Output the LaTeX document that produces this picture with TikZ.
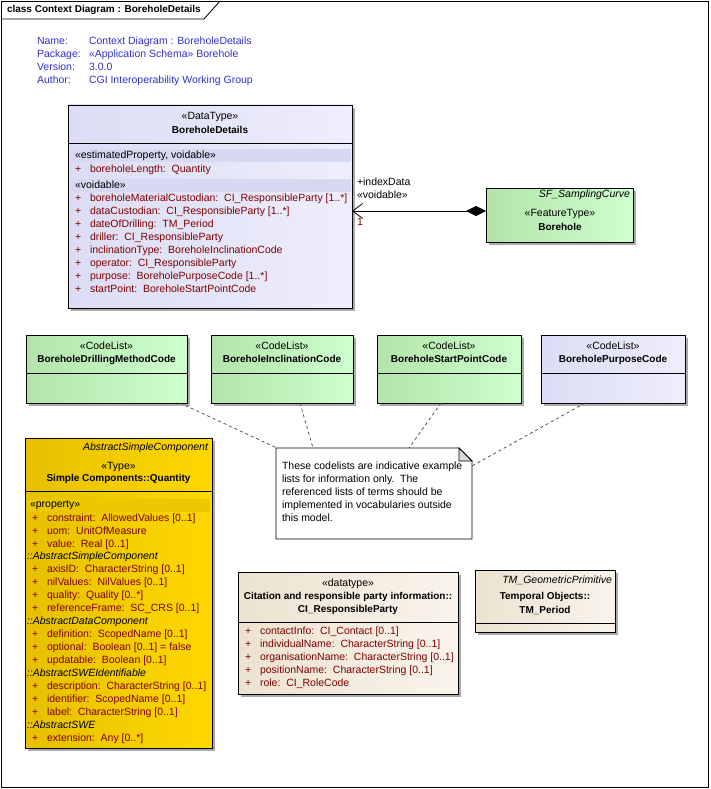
\documentclass[tikz,border=0pt]{standalone}
\usepackage{fontspec}
\setmainfont{Liberation Sans}
\usetikzlibrary{arrows.meta,shadows}
\definecolor{attrc}{RGB}{128,0,0}
\definecolor{metac}{RGB}{48,48,208}
\definecolor{lavL}{RGB}{220,220,244}
\definecolor{lavR}{RGB}{238,238,253}
\definecolor{lavband}{RGB}{216,216,243}
\definecolor{grnL}{RGB}{178,228,170}
\definecolor{grnR}{RGB}{206,255,206}
\definecolor{goldL}{RGB}{230,192,0}
\definecolor{goldR}{RGB}{255,216,0}
\definecolor{goldband}{RGB}{236,200,0}
\definecolor{begL}{RGB}{236,226,208}
\definecolor{begR}{RGB}{249,244,236}
\definecolor{shadowc}{RGB}{170,170,170}
\tikzset{
 every node/.style={inner sep=0pt, outer sep=0pt},
 txt/.style={font=\fontsize{10.5}{12}\selectfont, text height=7.5pt, text depth=2pt},
 btxt/.style={txt, font=\fontsize{10}{12}\selectfont\bfseries},
 itxt/.style={txt, font=\fontsize{10.5}{12}\selectfont\itshape},
 attr/.style={txt, text=attrc, anchor=west},
 umlbox/.style={draw=black, line width=0.8pt, anchor=north west,
   drop shadow={shadow xshift=3pt, shadow yshift=-3pt, fill=shadowc, opacity=1}},
 lavbox/.style={umlbox, left color=lavL, right color=lavR},
 grnbox/.style={umlbox, left color=grnL, right color=grnR},
 goldbox/.style={umlbox, left color=goldL, right color=goldR},
 begbox/.style={umlbox, left color=begL, right color=begR},
 sep/.style={line width=0.8pt},
 dashline/.style={draw=black!75, line width=0.7pt, dash pattern=on 3pt off 3pt},
}
\begin{document}
\begin{tikzpicture}[x=1pt,y=-1pt]
\useasboundingbox (0,0) rectangle (710,789);
% frame
\draw[line width=0.8pt] (1,1) rectangle (708,787);
\draw[line width=0.8pt] (1,19) -- (204,19) -- (220,1);
\node[btxt, anchor=west] (title) at (7,10) {class Context Diagram : BoreholeDetails};
% metadata
\node[txt, text=metac, anchor=west] (mnl) at (37,42) {Name:};
\node[txt, text=metac, anchor=west] (mpl) at (37,55) {Package:};
\node[txt, text=metac, anchor=west] (mvl) at (37,68) {Version:};
\node[txt, text=metac, anchor=west] (mal) at (37,81) {Author:};
\node[txt, text=metac, anchor=west] (mnv) at (89,42) {Context Diagram : BoreholeDetails};
\node[txt, text=metac, anchor=west] (mpv) at (89,55) {«Application Schema» Borehole};
\node[txt, text=metac, anchor=west] (mvv) at (89,68) {3.0.0};
\node[txt, text=metac, anchor=west] (mav) at (89,81) {CGI Interoperability Working Group};
% BoreholeDetails
\node[lavbox, minimum width=284pt, minimum height=203pt] (bd) at (68,105) {};
\draw[sep] (68,143) -- (352,143);
\node[txt] (bdst) at (210,117) {«DataType»};
\node[btxt] (bdnm) at (210,131) {BoreholeDetails};
\fill[lavband] (72,149) rectangle (351,162);
\node[txt, anchor=west] (bdb1) at (75,156) {«estimatedProperty, voidable»};
\node[attr] (bdp0) at (75,170) {+};
\node[attr] (bda0) at (90,170) {boreholeLength:\ \ Quantity};
\fill[lavband] (72,179) rectangle (351,192);
\node[txt, anchor=west] (bdb2) at (75,186) {«voidable»};
\foreach \y/\t [count=\i] in {
 199/{boreholeMaterialCustodian:\ \ CI\_ResponsibleParty [1..*]},
 212/{dataCustodian:\ \ CI\_ResponsibleParty [1..*]},
 225/{dateOfDrilling:\ \ TM\_Period},
 238/{driller:\ \ CI\_ResponsibleParty},
 251/{inclinationType:\ \ BoreholeInclinationCode},
 264/{operator:\ \ CI\_ResponsibleParty},
 277/{purpose:\ \ BoreholePurposeCode [1..*]},
 290/{startPoint:\ \ BoreholeStartPointCode}}{
 \node[attr] (bdp\i) at (75,\y) {+};
 \node[attr] (bda\i) at (90,\y) {\t};
}
% Borehole
\node[grnbox, minimum width=147pt, minimum height=54pt] (bh) at (486,188) {};
\node[itxt, anchor=east] (bhsup) at (630,195) {SF\_SamplingCurve};
\node[txt] (bhst) at (560,214) {«FeatureType»};
\node[btxt] (bhnm) at (560,228) {Borehole};
\coordinate (asB) at ([yshift=4pt]bh.west);
\coordinate (asA) at (bd.east |- asB);
\draw[line width=0.8pt, {Diamond[length=20pt,width=10pt]}-{Straight Barb[length=10pt,width=15pt]}] (asB) -- (asA);
\node[txt, anchor=west] (asl1) at (357,183) {+indexData};
\node[txt, anchor=west] (asl2) at (357,196) {«voidable»};
\node[txt, anchor=west, text=attrc] (asl3) at (357,223) {1};
% code lists
\node[grnbox, minimum width=161pt, minimum height=68pt] (cl1) at (26,335) {};
\draw[sep] (26,373) -- (187,373);
\node[txt] (cl1s) at (106.5,347) {«CodeList»};
\node[btxt] (cl1n) at (106.5,360) {BoreholeDrillingMethodCode};
\node[grnbox, minimum width=142pt, minimum height=68pt] (cl2) at (211,335) {};
\draw[sep] (211,373) -- (353,373);
\node[txt] (cl2s) at (282,347) {«CodeList»};
\node[btxt] (cl2n) at (282,360) {BoreholeInclinationCode};
\node[grnbox, minimum width=144pt, minimum height=68pt] (cl3) at (377,335) {};
\draw[sep] (377,373) -- (521,373);
\node[txt] (cl3s) at (449,347) {«CodeList»};
\node[btxt] (cl3n) at (449,360) {BoreholeStartPointCode};
\node[lavbox, minimum width=144pt, minimum height=68pt] (cl4) at (541,335) {};
\draw[sep] (541,373) -- (685,373);
\node[txt] (cl4s) at (613,347) {«CodeList»};
\node[btxt] (cl4n) at (613,360) {BoreholePurposeCode};
% note
\node[minimum width=196pt, minimum height=91pt, anchor=north west] (note) at (276,448) {};
\draw[line width=0.8pt, fill=white] (note.north west) -- ([xshift=-13pt]note.north east) -- ([yshift=-13pt]note.north east) -- (note.south east) -- (note.south west) -- cycle;
\filldraw[line width=0.8pt, fill=black!15] ([xshift=-13pt]note.north east) -- ([xshift=-13pt,yshift=-13pt]note.north east) -- ([yshift=-13pt]note.north east) -- cycle;
\foreach \y/\t [count=\i] in {
 467/{These codelists are indicative example},
 480/{lists for information only.\ \ The},
 493/{referenced lists of terms should be},
 506/{implemented in vocabularies outside},
 519/{this model.}}{
 \node[txt, anchor=west] (nt\i) at (282,\y) {\t};
}
\draw[dashline] ([xshift=-7pt]cl1.south east) -- ([xshift=1pt]note.north west);
\draw[dashline] ([xshift=18pt]cl2.south) -- ([xshift=37pt]note.north west);
\draw[dashline] ([xshift=-8pt]cl3.south) -- ([xshift=133pt]note.north west);
\draw[dashline] ([xshift=44pt]cl4.south west) -- ([yshift=-18pt]note.north east);
% Quantity
\node[goldbox, minimum width=187pt, minimum height=310pt] (qt) at (25,438) {};
\draw[sep] (25,491) -- (212,491);
\node[itxt, anchor=east] (qtsup) at (208,448) {AbstractSimpleComponent};
\node[txt] (qtst) at (118.5,467) {«Type»};
\node[btxt] (qtnm) at (118.5,479) {Simple Components::Quantity};
\fill[goldband] (27,499) rectangle (210,512);
\node[txt, anchor=west] (qtb) at (30,505) {«property»};
\foreach \y/\t [count=\i] in {
 519/{constraint:\ \ AllowedValues [0..1]},
 532/{uom:\ \ UnitOfMeasure},
 545/{value:\ \ Real [0..1]},
 570/{axisID:\ \ CharacterString [0..1]},
 583/{nilValues:\ \ NilValues [0..1]},
 596/{quality:\ \ Quality [0..*]},
 609/{referenceFrame:\ \ SC\_CRS [0..1]},
 635/{definition:\ \ ScopedName [0..1]},
 648/{optional:\ \ Boolean [0..1] = false},
 661/{updatable:\ \ Boolean [0..1]},
 687/{description:\ \ CharacterString [0..1]},
 700/{identifier:\ \ ScopedName [0..1]},
 713/{label:\ \ CharacterString [0..1]},
 739/{extension:\ \ Any [0..*]}}{
 \node[attr] (qtp\i) at (32,\y) {+};
 \node[attr] (qta\i) at (47,\y) {\t};
}
\node[itxt, anchor=west] (qth1) at (27,557) {::AbstractSimpleComponent};
\node[itxt, anchor=west] (qth2) at (27,622) {::AbstractDataComponent};
\node[itxt, anchor=west] (qth3) at (27,674) {::AbstractSWEIdentifiable};
\node[itxt, anchor=west] (qth4) at (27,726) {::AbstractSWE};
% CI_ResponsibleParty
\node[begbox, minimum width=220pt, minimum height=122pt] (rp) at (238,572) {};
\draw[sep] (238,622) -- (458,622);
\node[txt] (rpst) at (348,584) {«datatype»};
\node[btxt] (rpn1) at (348,597) {Citation and responsible party information::};
\node[btxt] (rpn2) at (348,610) {CI\_ResponsibleParty};
\foreach \y/\t [count=\i] in {
 632/{contactInfo:\ \ CI\_Contact [0..1]},
 645/{individualName:\ \ CharacterString [0..1]},
 658/{organisationName:\ \ CharacterString [0..1]},
 671/{positionName:\ \ CharacterString [0..1]},
 684/{role:\ \ CI\_RoleCode}}{
 \node[attr] (rpp\i) at (245,\y) {+};
 \node[attr] (rpa\i) at (260,\y) {\t};
}
% TM_Period
\node[begbox, minimum width=140pt, minimum height=62pt] (tm) at (475,570) {};
\draw[sep] (475,623) -- (615,623);
\node[itxt, anchor=east] (tmsup) at (612,581) {TM\_GeometricPrimitive};
\node[btxt] (tmn1) at (545,597) {Temporal Objects::};
\node[btxt] (tmn2) at (545,611) {TM\_Period};
\end{tikzpicture}
\end{document}
